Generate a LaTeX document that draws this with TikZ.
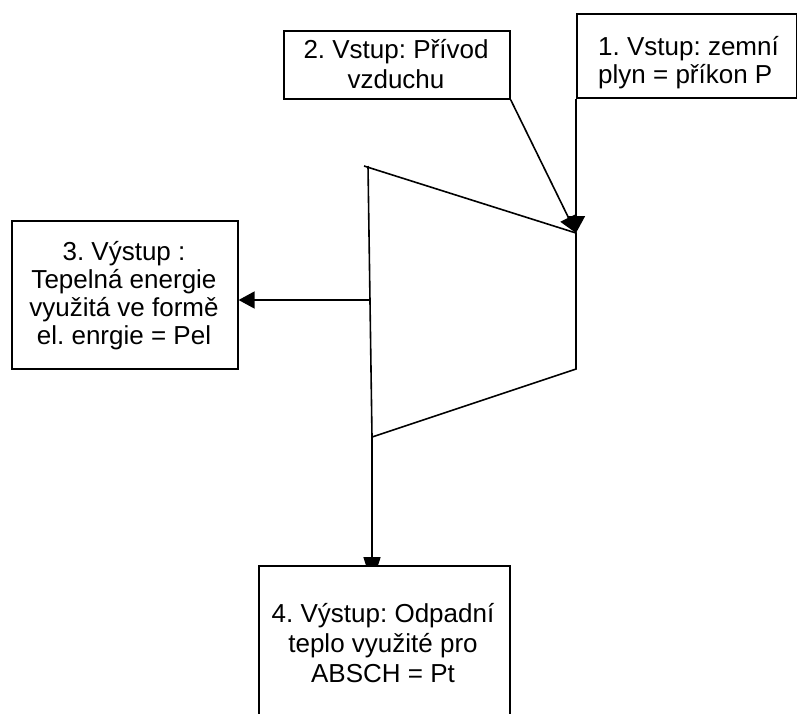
\documentclass[tikz,border=0pt]{standalone}
\usepackage{fontspec}
\setmainfont{Liberation Sans}
\usetikzlibrary{arrows.meta}
\frenchspacing

\begin{document}
\begin{tikzpicture}[x=1pt,y=-1pt,
  box/.style={draw, line width=1.6pt, fill=white, inner sep=0pt, anchor=north west},
  txt/.style={anchor=base, inner sep=0pt, font=\fontsize{26}{28}\selectfont\frenchspacing},
  wide/.style={font=\fontsize{26}{30}\selectfont\frenchspacing},
  wire/.style={line width=1.6pt},
  arr/.style={wire, -{Triangle[length=16pt,width=17pt]}},
]
\useasboundingbox (0,0) rectangle (797,713);
\clip (0,0) rectangle (797,713);
\fill[white] (0,0) rectangle (797,713);

% the turbine outline
\coordinate (tl) at (368,166);
\coordinate (tr) at (576,233);
\coordinate (br) at (576,369);
\coordinate (bl) at (372,437);
\coordinate (tlx) at (364,166);
\coordinate (p3) at (370,300);
\coordinate (tip4) at (372,584);

\draw[wire] (tlx) -- (tr) -- (br) -- (bl);
\draw[wire] (tl) -- (bl);

% boxes
\node[box, minimum width=220, minimum height=84] (b1) at (576,13) {};
\node[box, minimum width=226, minimum height=68] (b2) at (283,30) {};
\node[box, minimum width=226, minimum height=148] (b3) at (11,220) {};
\node[box, minimum width=251, minimum height=170] (b4) at (258,565) {};

% texts
\node[txt, anchor=base west] (t1) at (598,55)
  {\begin{tabular}[t]{@{}l@{}}1. Vstup: zemní\\plyn = příkon P\end{tabular}};
\node[txt, wide] (t2) at (396,58)
  {\begin{tabular}[t]{@{}c@{}}2. Vstup: Přívod\\vzduchu\end{tabular}};
\node[txt] (t3) at (124,260)
  {\begin{tabular}[t]{@{}c@{}}3. Výstup :\\Tepelná energie\\využitá ve formě\\el. enrgie = Pel\end{tabular}};
\node[txt, wide] (t4) at (383,622)
  {\begin{tabular}[t]{@{}c@{}}4. Výstup: Odpadní\\teplo využité pro\\ABSCH = Pt\end{tabular}};

% inputs
\draw[wire, -{Triangle[length=17pt,width=18pt]}] (b1.south west) -- (tr);
\draw[wire, -{Triangle[length=17pt,width=18pt]}] (b2.south east) -- (tr);

% outputs
\draw[arr] (p3) -- (p3 -| b3.east);
\begin{scope}
  \clip (0,0) rectangle (797,565);
  \draw[wire, -{Triangle[length=27pt,width=17pt]}] (bl) -- (tip4);
\end{scope}
\end{tikzpicture}
\end{document}
